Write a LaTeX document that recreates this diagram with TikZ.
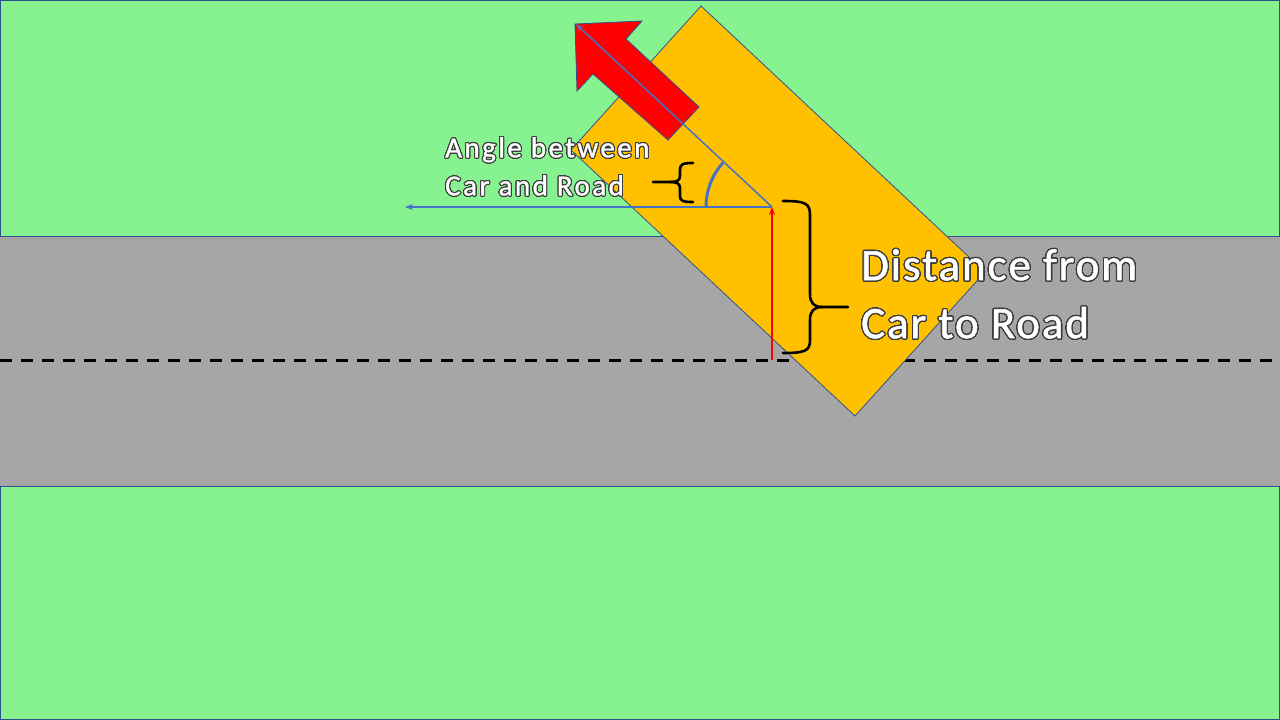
\documentclass[tikz,border=0pt]{standalone}
\usepackage{fontspec}
\setmainfont{Carlito}
\newfontfamily\anglefont[LetterSpace=8.5,FakeBold=1.2]{Carlito}
\newfontfamily\distfont[LetterSpace=4.3,FakeBold=1.2]{Carlito}
\usepackage[copies]{contour}
\contournumber{32}
\usetikzlibrary{arrows.meta}
\definecolor{grass}{RGB}{134,242,144}
\definecolor{roadgray}{RGB}{166,166,166}
\definecolor{carorange}{RGB}{255,192,0}
\definecolor{edgeblue}{RGB}{47,82,143}
\definecolor{lineblue}{RGB}{68,114,196}
\definecolor{txtedge}{RGB}{60,60,60}
\tikzset{
  outlined/.style={draw=edgeblue, line width=0.8pt},
  vecline/.style={lineblue, line width=1.5pt, -{Stealth[length=8pt,width=6pt]}},
  bracepath/.style={black, line width=2.6pt, line cap=round, line join=round},
  lbl/.style={text=white, inner sep=0pt, anchor=north west, align=left}
}
\begin{document}
\begin{tikzpicture}[x=1pt,y=-1pt]
\useasboundingbox (0,0) rectangle (1280,720);
% background and road
\fill[grass, outlined] (0.5,0.5) rectangle (1279.5,719.5);
\fill[roadgray, outlined] (-1,236) rectangle (1281,486);
\draw[black, line width=3pt, dash pattern=on 12pt off 9pt] (0,360) -- (1280,360);
% car
\coordinate (cT) at (701,6);
\coordinate (cR) at (985,272);
\coordinate (cB) at (855,416);
\coordinate (cL) at (571,150);
\fill[carorange, outlined] (cT) -- (cR) -- (cB) -- (cL) -- cycle;
% red direction arrow
\fill[red, outlined] (575,24) -- (642,21) -- (626,39) -- (699,107) -- (668,140) -- (593,74) -- (577,91) -- cycle;
% vectors
\coordinate (o) at (772,207);
\coordinate (head) at (576,24);
\coordinate (west) at (405,207);
\coordinate (roadc) at (772,360);
\draw[vecline] (o) -- (head);
\draw[vecline] (o) -- (west);
\draw[red, line width=1.5pt, -{Stealth[length=8pt,width=6pt]}] (roadc) -- (o);
% angle arc (y axis points down, so visual up-left is angle > 180)
\draw[lineblue, line width=3pt] ([shift={(180:66)}]o) arc[start angle=180, end angle=222, radius=66];
% small brace
\draw[bracepath] (693,163) .. controls (683,163) and (680,164) .. (680,170) -- (680,176) .. controls (680,180) and (677,182) .. (671,182) -- (653,182);
\draw[bracepath] (671,182) .. controls (677,182) and (680,184) .. (680,188) -- (680,196) .. controls (680,201) and (683,202) .. (693,202);
% big brace
\draw[bracepath] (783,201) .. controls (805,201) and (810,203) .. (810,215) -- (810,294) .. controls (810,303) and (814,307) .. (822,307) -- (848,307);
\draw[bracepath] (822,307) .. controls (814,307) and (810,311) .. (810,320) -- (810,340) .. controls (810,351) and (805,353) .. (783,353);
% labels
\contourlength{1pt}
\node[lbl, font=\anglefont\fontsize{29}{38}\selectfont] (angtxt) at (445,137) {\contour{txtedge}{Angle between}\\\contour{txtedge}{Car and Road}};
\contourlength{1.2pt}
\node[lbl, font=\distfont\fontsize{45}{58}\selectfont] (disttxt) at (861,249) {\contour{txtedge}{Distance from}\\\contour{txtedge}{Car to Road}};
\end{tikzpicture}
\end{document}
